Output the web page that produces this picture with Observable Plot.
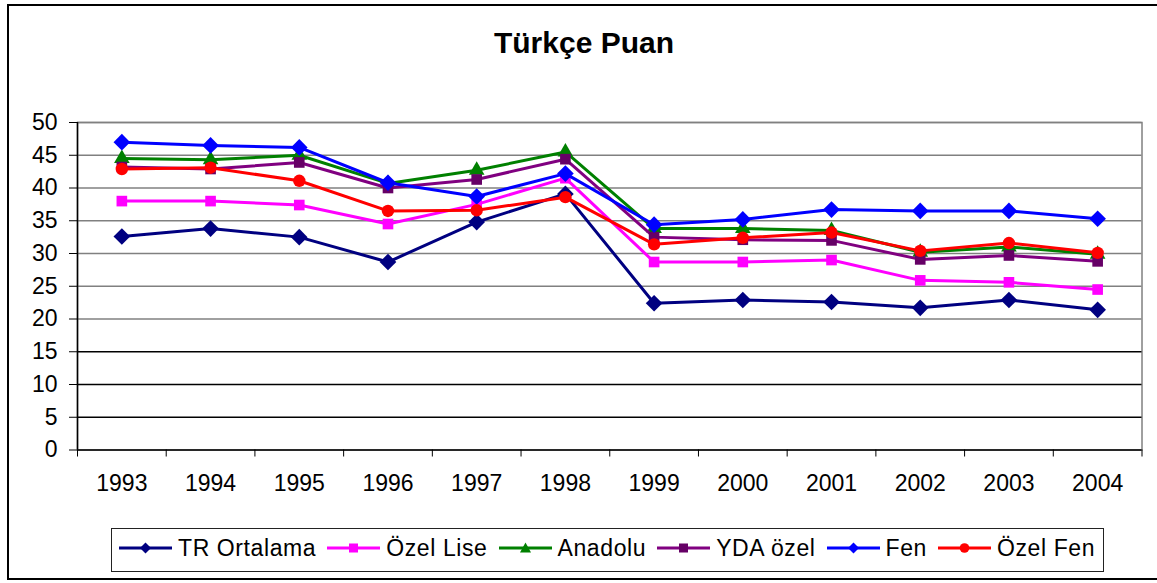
<!DOCTYPE html>
<html><head><meta charset="utf-8">
<script src="https://cdn.jsdelivr.net/npm/d3@7"></script>
<script src="https://cdn.jsdelivr.net/npm/@observablehq/plot@0.6"></script>
<style>
body{margin:0;background:#fff;}
#wrap{position:relative;width:1157px;height:583px;overflow:hidden;font-family:"Liberation Sans",Arial,sans-serif;color:#000;}
#wrap svg.plot{position:absolute;left:0;top:0;}
#frame{position:absolute;left:7px;top:4px;width:1170px;height:576px;border:2px solid #000;box-sizing:border-box;}
#title{position:absolute;left:584px;top:28px;transform:translateX(-50%);font-size:30px;font-weight:bold;line-height:30px;white-space:nowrap;}
#legend{position:absolute;left:111px;top:528px;width:993px;height:44px;border:1px solid #222;box-sizing:border-box;background:#fff;display:flex;align-items:center;padding:0 0 4px 7px;font-size:23px;letter-spacing:0.6px;white-space:nowrap;}
#legend .item{display:flex;align-items:center;margin-right:11px;}
#legend svg{margin-right:6px;}
</style>
</head><body>
<div id="wrap">
  <div id="frame"></div>
</div>
<script>
const years = [1993, 1994, 1995, 1996, 1997, 1998, 1999, 2000, 2001, 2002, 2003, 2004];
const seriesNames = ["TR Ortalama", "Özel Lise", "Anadolu", "YDA özel", "Fen", "Özel Fen"];
const trOrtalama = [32.6, 33.8, 32.5, 28.7, 34.8, 39.1, 22.4, 22.9, 22.6, 21.7, 22.9, 21.4];
const ozelLise   = [38.0, 38.0, 37.4, 34.5, 37.5, 41.5, 28.7, 28.7, 29.0, 25.9, 25.6, 24.5];
const anadolu    = [44.5, 44.3, 45.0, 40.7, 42.7, 45.5, 33.8, 33.8, 33.5, 30.2, 31.0, 29.9];
const ydaOzel    = [43.2, 42.9, 43.9, 40.0, 41.3, 44.4, 32.5, 32.1, 32.0, 29.1, 29.7, 28.8];
const fen        = [47.0, 46.5, 46.2, 40.8, 38.7, 42.2, 34.4, 35.2, 36.7, 36.5, 36.5, 35.3];
const ozelFen    = [42.9, 43.1, 41.1, 36.5, 36.6, 38.6, 31.4, 32.4, 33.2, 30.4, 31.6, 30.1];
const yTicks = [0, 5, 10, 15, 20, 25, 30, 35, 40, 45, 50];
const titleText = "Türkçe Puan";

const seriesValues = [trOrtalama, ozelLise, anadolu, ydaOzel, fen, ozelFen];
const lineColors = ["#000080", "#FF00FF", "#008000", "#800080", "#0000FF", "#FF0000"];
const markerColors = ["#000080", "#FF00FF", "#008000", "#660066", "#0000FF", "#FF0000"];
const symbols = ["diamond2", "square", "triangle", "square", "diamond2", "circle"];
const radii = [7.5, 6, 5.8, 6, 7.5, 6.2];

const boundaries = years.map(y => y - 0.5).concat([years[years.length - 1] + 0.5]);

const marks = [
  Plot.frame({stroke: "#808080", strokeWidth: 1.5}),
  Plot.gridY(yTicks.filter(v => v > 0), {stroke: v => v < 20 ? "#000" : "#808080", strokeOpacity: 1, strokeWidth: 1.3}),
  Plot.ruleX([boundaries[0]], {stroke: "#000", strokeWidth: 1.5}),
  Plot.ruleY([0], {stroke: "#000", strokeWidth: 1.5}),
  Plot.axisY(yTicks, {label: null, tickSize: 8, tickPadding: 12, fontSize: 23, tickFormat: d => String(d), stroke: "#000"}),
  Plot.axisX(boundaries, {label: null, tickSize: 7, tickFormat: () => "", stroke: "#000"}),
  Plot.axisX(years, {label: null, tickSize: 0, tickPadding: 25, fontSize: 23, tickFormat: d => String(d)})
];

seriesNames.forEach((name, i) => {
  const rows = years.map((yr, j) => ({year: yr, value: seriesValues[i][j], series: name}));
  marks.push(Plot.line(rows, {x: "year", y: "value", stroke: lineColors[i], strokeWidth: 3}));
  marks.push(Plot.dot(rows, {x: "year", y: "value", symbol: symbols[i], fill: markerColors[i], stroke: "none", r: radii[i]}));
});

const chart = Plot.plot({
  width: 1157,
  height: 583,
  marginLeft: 77,
  marginRight: 15.5,
  marginTop: 122,
  marginBottom: 133.5,
  style: {fontFamily: '"Liberation Sans", Arial, sans-serif', background: "transparent", color: "#000"},
  x: {type: "linear", label: null, domain: [boundaries[0], boundaries[boundaries.length - 1]]},
  y: {label: null, domain: [0, 50]},
  marks
});
chart.classList.add("plot");
const wrap = document.getElementById("wrap");
wrap.appendChild(chart);

const title = document.createElement("div");
title.id = "title";
title.textContent = titleText;
wrap.appendChild(title);

const legend = document.createElement("div");
legend.id = "legend";
function symbolSvg(i) {
  const c = markerColors[i], lc = lineColors[i];
  let m = "";
  const cx = 26.5, cy = 8;
  if (symbols[i] === "diamond2") m = `<path d="M${cx},${cy-5.5}L${cx+5.5},${cy}L${cx},${cy+5.5}L${cx-5.5},${cy}Z" fill="${c}"/>`;
  else if (symbols[i] === "square") m = `<rect x="${cx-4.5}" y="${cy-4.5}" width="9" height="9" fill="${c}"/>`;
  else if (symbols[i] === "triangle") m = `<path d="M${cx},${cy-5.5}L${cx+5.5},${cy+4.5}L${cx-5.5},${cy+4.5}Z" fill="${c}"/>`;
  else m = `<circle cx="${cx}" cy="${cy}" r="4.8" fill="${c}"/>`;
  return `<svg width="53" height="16"><line x1="0" x2="53" y1="${cy}" y2="${cy}" stroke="${lc}" stroke-width="3"/>${m}</svg>`;
}
seriesNames.forEach((name, i) => {
  const it = document.createElement("div");
  it.className = "item";
  it.innerHTML = symbolSvg(i) + `<span>${name}</span>`;
  legend.appendChild(it);
});
wrap.appendChild(legend);
</script>
</body></html>
